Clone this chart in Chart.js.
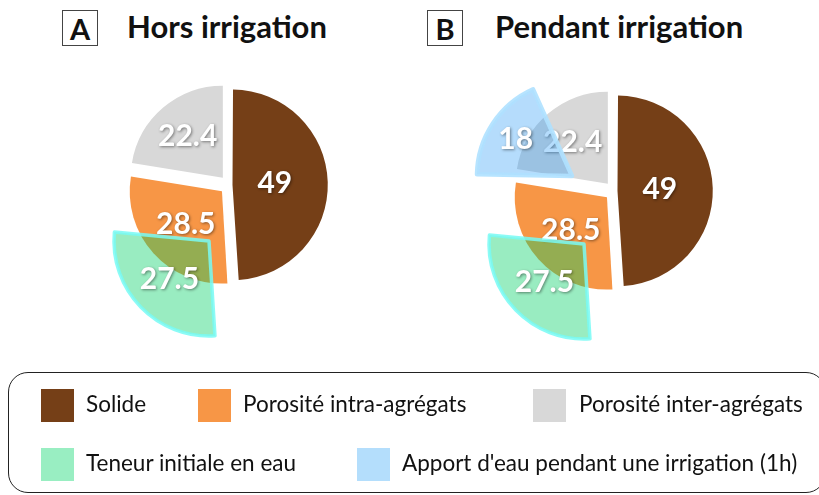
<!DOCTYPE html>
<html>
<head>
<meta charset="utf-8">
<script src="https://cdn.jsdelivr.net/npm/chart.js@4.4.1/dist/chart.umd.min.js"></script>
<style>
  body { margin: 0; width: 819px; height: 495px; background: #fff; position: relative; overflow: hidden; font-family: Lato, "Open Sans", sans-serif; color: #111; }
  canvas { position: absolute; }
  .letter { position: absolute; width: 34px; height: 34px; border: 1.5px solid #444; font-weight: bold; font-size: 29px; line-height: 35px; text-align: center; }
  .title { position: absolute; font-weight: bold; font-size: 31px; line-height: 1; white-space: nowrap; }
  .legend { position: absolute; left: 8px; top: 372px; width: 818px; height: 121px; border: 1.5px solid #222; border-radius: 20px; box-sizing: border-box; }
  .sw { position: absolute; width: 33px; height: 33px; }
  .lt { position: absolute; font-size: 22.5px; line-height: 1; white-space: nowrap; }
</style>
</head>
<body>

<div class="letter" style="left:62px;top:10px">A</div>
<div class="title" id="t0" style="left:127px;top:11px"></div>
<div class="letter" style="left:427px;top:10px">B</div>
<div class="title" id="t1" style="left:495px;top:11px"></div>

<canvas id="pieA"  width="260" height="260"></canvas>
<canvas id="waterA0" width="260" height="260"></canvas>
<canvas id="pieB"  width="260" height="260"></canvas>
<canvas id="waterB0" width="260" height="260"></canvas>
<canvas id="waterB1" width="260" height="260"></canvas>

<div class="legend"></div>
<div id="legend-items"></div>

<script>
// ── Data ──────────────────────────────────────────────
const panelTitles = ["Hors irrigation", "Pendant irrigation"];
const soilLabels  = ["Solide", "Porosité intra-agrégats", "Porosité inter-agrégats"];
const soilA       = [49, 28.5, 22.4];
const soilB       = [49, 28.5, 22.4];
const waterLabels = ["Teneur initiale en eau", "Apport d'eau pendant une irrigation (1h)"];
const waterA      = [27.5];
const waterB      = [27.5, 18];

// ── Styles ────────────────────────────────────────────
const soilColors   = ["#753f17", "#f79646", "#d8d8d8"];
const waterFill    = ["rgba(0,208,100,0.40)", "rgba(30,150,245,0.33)"];
const waterBorder  = ["rgba(120,250,245,0.85)", "rgba(175,225,255,0.9)"];
const waterSwatch  = ["#99eec2", "#b4defc"];

document.getElementById("t0").textContent = panelTitles[0];
document.getElementById("t1").textContent = panelTitles[1];

// ── Value labels on slices ────────────────────────────
const sliceLabels = {
  id: "sliceLabels",
  afterDatasetsDraw(chart, args, opts) {
    const ctx  = chart.ctx;
    const meta = chart.getDatasetMeta(0);
    const data = chart.data.datasets[0].data;
    ctx.save();
    ctx.font = "bold 30px Lato";
    ctx.fillStyle = "#fff";
    ctx.textAlign = "center";
    ctx.textBaseline = "middle";
    ctx.shadowColor = "rgba(0,0,0,0.45)";
    ctx.shadowBlur = 3;
    ctx.shadowOffsetX = 1;
    ctx.shadowOffsetY = 1;
    meta.data.forEach((arc, i) => {
      const f = opts.pos[i];
      if (!f) return;
      const mid   = (arc.startAngle + arc.endAngle) / 2;
      const shift = (arc.options.offset || 0) / 4;
      const r     = arc.outerRadius * f + shift;
      ctx.fillText(String(data[i]), arc.x + Math.cos(mid) * r, arc.y + Math.sin(mid) * r);
    });
    ctx.restore();
  }
};

function place(id, cx, cy) {
  const el = document.getElementById(id);
  el.style.left = (cx - 130) + "px";
  el.style.top  = (cy - 130) + "px";
  return el;
}

const base = {
  responsive: false,
  animation: false,
  devicePixelRatio: 1,
  events: [],
  layout: { padding: 0 }
};

function soilPie(id, cx, cy, values) {
  return new Chart(place(id, cx, cy), {
    type: "pie",
    data: {
      labels: soilLabels,
      datasets: [{ data: values, backgroundColor: soilColors, borderWidth: 0, offset: [14, 38, 38] }]
    },
    options: { ...base, radius: 92,
      plugins: { legend: { display: false }, tooltip: { enabled: false }, sliceLabels: { pos: [0.46, 0.53, 0.59] } } },
    plugins: [sliceLabels]
  });
}

// one water slice, placed by hand like in the figure
function waterSlice(id, cx, cy, value, k, rotation, labelPos) {
  return new Chart(place(id, cx, cy), {
    type: "pie",
    data: {
      labels: [waterLabels[k], ""],
      datasets: [{
        data: [value, 100 - value],
        backgroundColor: [waterFill[k], "rgba(0,0,0,0)"],
        borderColor: [waterBorder[k], "rgba(0,0,0,0)"],
        borderWidth: [k === 0 ? 3.5 : 4.5, 0],
        borderJoinStyle: "round"
      }]
    },
    options: { ...base, radius: 95, rotation: rotation,
      plugins: { legend: { display: false }, tooltip: { enabled: false }, sliceLabels: { pos: [labelPos, 0] } } },
    plugins: [sliceLabels]
  });
}

soilPie("pieA", 228.6, 184.5, soilA);
waterSlice("waterA0", 208.5, 240.5, waterA[0], 0, soilA[0] * 3.6, 0.58);

soilPie("pieB", 613.6, 190.5, soilB);
waterSlice("waterB0", 583.5, 243.5, waterB[0], 0, soilB[0] * 3.6, 0.58);
waterSlice("waterB1", 571.5, 175.5, waterB[1], 1, 271, 0.71);

// ── Legend ────────────────────────────────────────────
const legendItems = [
  { text: soilLabels[0],  color: soilColors[0],  sx: 41,  tx: 86,  y: 389 },
  { text: soilLabels[1],  color: soilColors[1],  sx: 198, tx: 243, y: 389 },
  { text: soilLabels[2],  color: soilColors[2],  sx: 533, tx: 579, y: 389 },
  { text: waterLabels[0], color: waterSwatch[0], sx: 41,  tx: 86,  y: 448 },
  { text: waterLabels[1], color: waterSwatch[1], sx: 357, tx: 402, y: 448 }
];
document.getElementById("legend-items").innerHTML = legendItems.map(it => `
  <div class="sw" style="left:${it.sx}px;top:${it.y}px;background:${it.color}"></div>
  <div class="lt" style="left:${it.tx}px;top:${it.y + 4}px">${it.text}</div>`).join("");
</script>
</body>
</html>
